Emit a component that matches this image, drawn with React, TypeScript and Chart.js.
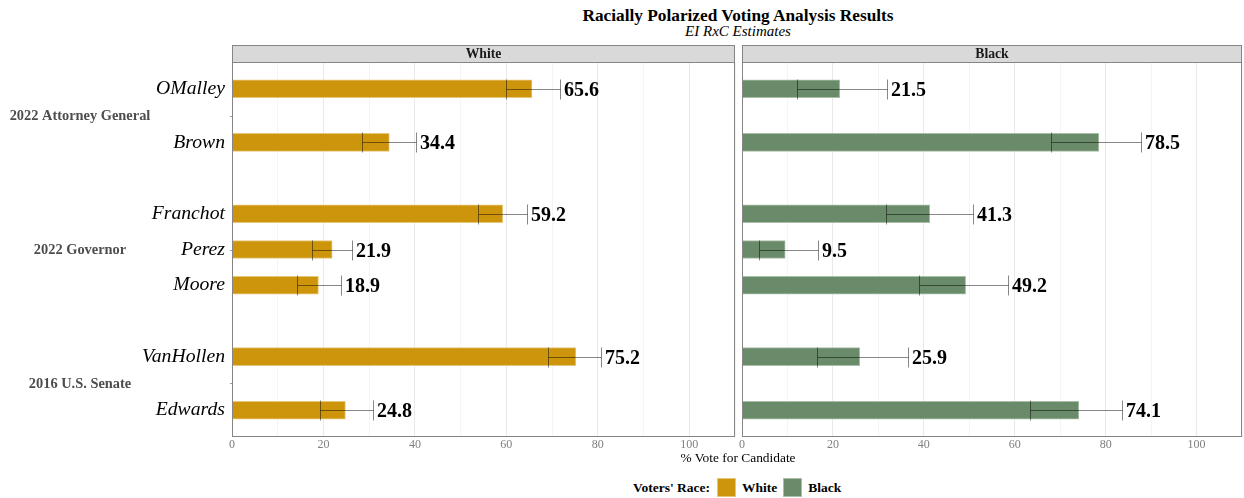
import React, { useEffect, useRef } from "react";
import { Chart, registerables } from "chart.js";

Chart.register(...registerables);

// ---- data ---------------------------------------------------------------
const offices = ["2022 Attorney General", "2022 Governor", "2016 U.S. Senate"];
const candidates = ["OMalley", "Brown", "Franchot", "Perez", "Moore", "VanHollen", "Edwards"];
const candidateOffice = [0, 0, 1, 1, 1, 2, 2];

const whiteEstimate = [65.6, 34.4, 59.2, 21.9, 18.9, 75.2, 24.8];
const whiteLower = [60.0, 28.4, 53.9, 17.6, 14.3, 69.2, 19.2];
const whiteUpper = [71.7, 40.3, 64.5, 26.2, 23.8, 80.8, 30.9];

const blackEstimate = [21.5, 78.5, 41.3, 9.5, 49.2, 25.9, 74.1];
const blackLower = [12.0, 67.9, 31.7, 3.7, 38.9, 16.4, 63.3];
const blackUpper = [31.9, 87.8, 50.8, 16.8, 58.5, 36.6, 83.5];

const xTickLabels = [0, 20, 40, 60, 80, 100];

// ---- styling ------------------------------------------------------------
const SERIF = '"Liberation Serif", "Times New Roman", Times, serif';
const GOLD = "#cd950c";
const GOLD_EDGE = "#e6c77a";
const GREEN = "#698b69";
const GREEN_EDGE = "#a9c0a8";
const FRAME = "#858585";

// Each office block spans the same height; candidates spread evenly in it,
// with a wider gap between blocks.
function computeRows(): number[] {
  const rows: number[] = [];
  let cursor = 0;
  offices.forEach((_, g) => {
    const members = candidates.map((_, i) => i).filter((i) => candidateOffice[i] === g);
    const step = 6 / members.length;
    if (g > 0) cursor += 4;
    members.forEach((idx, k) => {
      if (k > 0) cursor += step;
      rows[idx] = cursor;
    });
  });
  return rows;
}

type PanelSpec = {
  race: string;
  est: number[];
  lo: number[];
  hi: number[];
  fill: string;
  edge: string;
  showLabels: boolean;
  padLeft: number;
  padRight: number;
};

function makeChart(canvas: HTMLCanvasElement, spec: PanelSpec, rows: number[]) {
  const errorBars = {
    id: "errorBarsAndLabels",
    afterDatasetsDraw(chart: any) {
      const { ctx } = chart;
      const x = chart.scales.x;
      const y = chart.scales.y;
      ctx.save();
      rows.forEach((r, i) => {
        const yp = Math.round(y.getPixelForValue(r)) + 0.5;
        const x1 = Math.round(x.getPixelForValue(spec.lo[i])) + 0.5;
        const x2 = Math.round(x.getPixelForValue(spec.hi[i])) + 0.5;
        ctx.strokeStyle = "rgba(0,0,0,0.47)";
        ctx.lineWidth = 1;
        ctx.beginPath();
        ctx.moveTo(x1, yp);
        ctx.lineTo(x2, yp);
        ctx.moveTo(x1, yp - 10);
        ctx.lineTo(x1, yp + 10);
        ctx.moveTo(x2, yp - 10);
        ctx.lineTo(x2, yp + 10);
        ctx.stroke();

        ctx.fillStyle = "#000";
        ctx.font = `bold 20px ${SERIF}`;
        ctx.textAlign = "left";
        ctx.textBaseline = "middle";
        ctx.fillText(spec.est[i].toFixed(1), x2 + 3.5, yp + 1);
      });
      ctx.restore();
    },
  };

  const frame = {
    id: "panelFrame",
    afterDraw(chart: any) {
      const { ctx, chartArea } = chart;
      const { left, right, top, bottom } = chartArea;
      const y = chart.scales.y;
      ctx.save();
      // panel border
      ctx.strokeStyle = FRAME;
      ctx.lineWidth = 1;
      ctx.strokeRect(Math.round(left) + 0.5, Math.round(top) + 0.5, Math.round(right - left) - 1, Math.round(bottom - top) - 1);
      // facet strip
      const sTop = Math.round(top) - 17;
      ctx.fillStyle = "#d9d9d9";
      ctx.fillRect(Math.round(left), sTop, Math.round(right - left), 17);
      ctx.strokeRect(Math.round(left) + 0.5, sTop + 0.5, Math.round(right - left) - 1, 17);
      ctx.fillStyle = "#1a1a1a";
      ctx.font = `bold 13.7px ${SERIF}`;
      ctx.textAlign = "center";
      ctx.textBaseline = "middle";
      ctx.fillText(spec.race, (left + right) / 2, sTop + 9);

      if (spec.showLabels) {
        offices.forEach((name, g) => {
          const members = rows.filter((_, i) => candidateOffice[i] === g);
          const centre = (Math.min(...members) + Math.max(...members)) / 2;
          const yp = y.getPixelForValue(centre);
          ctx.fillStyle = "#4d4d4d";
          ctx.font = `bold 14.4px ${SERIF}`;
          ctx.textAlign = "center";
          ctx.textBaseline = "middle";
          ctx.fillText(name, 80, yp + 1);
          ctx.strokeStyle = "#9a9a9a";
          ctx.beginPath();
          ctx.moveTo(left - 2, Math.round(yp) + 0.5);
          ctx.lineTo(left, Math.round(yp) + 0.5);
          ctx.stroke();
        });
      }
      ctx.restore();
    },
  };

  return new Chart(canvas, {
    type: "bar",
    data: {
      datasets: [
        {
          label: spec.race,
          data: rows.map((r, i) => ({ x: spec.est[i], y: r })),
          backgroundColor: spec.fill,
          borderColor: spec.edge,
          borderWidth: 1,
          barThickness: 18,
        },
      ],
    },
    options: {
      indexAxis: "y",
      responsive: false,
      animation: false,
      devicePixelRatio: 1,
      layout: { padding: { top: 22, left: spec.padLeft, right: spec.padRight, bottom: 0 } },
      plugins: { legend: { display: false }, tooltip: { enabled: false }, title: { display: false } },
      scales: {
        x: {
          type: "linear",
          min: 0,
          max: 110,
          afterFit: (s: any) => {
            s.height = 23;
          },
          ticks: {
            stepSize: 10,
            autoSkip: false,
            maxRotation: 0,
            padding: 1,
            color: "#7f7f7f",
            font: { family: SERIF, size: 12 },
            callback: (v: any) => (xTickLabels.includes(Number(v)) ? String(v) : ""),
          },
          grid: {
            drawTicks: false,
            color: (c: any) => (c.tick && xTickLabels.includes(c.tick.value) ? "#e9e9e9" : "#f4f4f4"),
          },
          border: { display: false },
        },
        y: {
          type: "linear",
          reverse: true,
          offset: false,
          bounds: "data",
          min: -1.5,
          max: 19.5,
          display: spec.showLabels,
          afterBuildTicks: (s: any) => {
            s.ticks = rows.map((v) => ({ value: v }));
          },
          afterFit: (s: any) => {
            s.width = spec.showLabels ? 232 : 0;
          },
          ticks: {
            autoSkip: false,
            padding: 7,
            color: "#000",
            font: { family: SERIF, size: 19.7, style: "italic" },
            callback: (v: any) => {
              const i = rows.indexOf(Number(v));
              return i >= 0 ? candidates[i] : "";
            },
          },
          grid: { display: false, drawTicks: false, offset: false },
          border: { display: false },
        },
      },
    },
    plugins: [errorBars, frame],
  } as any);
}

export default function App() {
  const leftRef = useRef<HTMLCanvasElement>(null);
  const rightRef = useRef<HTMLCanvasElement>(null);

  useEffect(() => {
    const rows = computeRows();
    const charts: Chart[] = [];
    if (leftRef.current) {
      charts.push(
        makeChart(
          leftRef.current,
          { race: "White", est: whiteEstimate, lo: whiteLower, hi: whiteUpper, fill: GOLD, edge: GOLD_EDGE, showLabels: true, padLeft: 0, padRight: 3 },
          rows
        )
      );
    }
    if (rightRef.current) {
      charts.push(
        makeChart(
          rightRef.current,
          { race: "Black", est: blackEstimate, lo: blackLower, hi: blackUpper, fill: GREEN, edge: GREEN_EDGE, showLabels: false, padLeft: 4, padRight: 2 },
          rows
        )
      );
    }
    return () => charts.forEach((c) => c.destroy());
  }, []);

  const swatch = (fill: string, edge: string): React.CSSProperties => ({
    width: 19,
    height: 19,
    boxSizing: "border-box",
    background: fill,
    border: `1px solid ${edge}`,
  });

  return (
    <div style={{ position: "fixed", left: 0, top: 0, width: 1244, height: 498, background: "#fff", fontFamily: SERIF, color: "#000" }}>
      <div style={{ position: "absolute", left: 338, width: 800, top: 7, textAlign: "center", fontSize: 17.3, lineHeight: "17.3px", fontWeight: "bold" }}>
        Racially Polarized Voting Analysis Results
      </div>
      <div style={{ position: "absolute", left: 338, width: 800, top: 24.4, textAlign: "center", fontSize: 15, lineHeight: "15px", fontStyle: "italic" }}>
        EI RxC Estimates
      </div>

      <canvas ref={leftRef} width={738} height={420} style={{ position: "absolute", left: 0, top: 40, width: 738, height: 420 }} />
      <canvas ref={rightRef} width={506} height={420} style={{ position: "absolute", left: 738, top: 40, width: 506, height: 420 }} />

      <div style={{ position: "absolute", left: 338, width: 800, top: 451.2, textAlign: "center", fontSize: 13.4, lineHeight: "13.4px" }}>
        % Vote for Candidate
      </div>

      <div style={{ position: "absolute", left: 633, top: 478, height: 19, display: "flex", alignItems: "center", fontSize: 13.5, lineHeight: "13.5px", fontWeight: "bold" }}>
        <span style={{ marginRight: 6.6 }}>Voters' Race:</span>
        <span style={{ ...swatch(GOLD, GOLD_EDGE), marginRight: 6.3 }} />
        <span style={{ marginRight: 5.9 }}>White</span>
        <span style={{ ...swatch(GREEN, GREEN_EDGE), marginRight: 6 }} />
        <span>Black</span>
      </div>
    </div>
  );
}
